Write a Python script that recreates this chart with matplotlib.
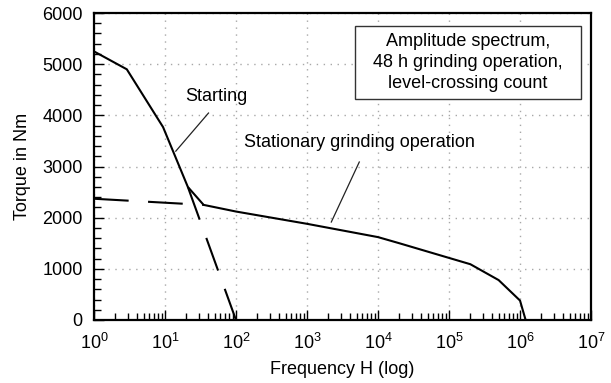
import matplotlib
matplotlib.use("Agg")
import matplotlib.pyplot as plt
from matplotlib.patches import Rectangle
from matplotlib.ticker import LogLocator, MultipleLocator, NullFormatter

plt.rcParams["font.family"] = ["Liberation Sans", "DejaVu Sans"]
plt.rcParams["mathtext.fontset"] = "custom"
plt.rcParams["mathtext.rm"] = "Liberation Sans"
plt.rcParams["mathtext.it"] = "Liberation Sans:italic"
plt.rcParams["lines.scale_dashes"] = False

FS = 13

# Total spectrum (solid): starting branch followed by stationary grinding
total_freq = [1, 2.9, 9.4, 21, 35, 100, 1000, 1e4, 2e4, 2e5, 5e5, 1e6, 1.2e6]
total_torque = [5250, 4900, 3770, 2600, 2250, 2120, 1880, 1620, 1500, 1090, 780, 380, 0]

# Starting spectrum continued below the stationary part (dashed)
start_freq = [21, 100]
start_torque = [2600, 0]

# Stationary spectrum continued towards low counts (dashed)
stat_freq = [1, 35]
stat_torque = [2370, 2250]

fig = plt.figure(figsize=(6.11, 3.83), dpi=100)
ax = fig.add_axes([0.1538, 0.1645, 0.8135, 0.8015])

ax.plot(total_freq, total_torque, color="black", lw=1.5, solid_joinstyle="miter")
ax.plot(start_freq, start_torque, color="black", lw=1.5, dashes=(25, 14))
ax.plot(stat_freq, stat_torque, color="black", lw=1.5, dashes=(25, 14))

ax.set_xscale("log")
ax.set_xlim(1, 1e7)
ax.set_ylim(0, 6000)
ax.xaxis.set_major_locator(LogLocator(base=10, numticks=10))
ax.xaxis.set_minor_locator(LogLocator(base=10, subs=range(2, 10), numticks=100))
ax.xaxis.set_minor_formatter(NullFormatter())
ax.yaxis.set_major_locator(MultipleLocator(1000))
ax.yaxis.set_minor_locator(MultipleLocator(200))

ax.tick_params(which="both", direction="in", top=False, right=False,
               labelsize=FS, color="black")
ax.tick_params(axis="x", which="both", pad=9)
ax.tick_params(axis="y", which="both", pad=8)
ax.tick_params(which="major", length=7, width=1.0)
ax.tick_params(which="minor", length=5, width=1.0)

for s in ax.spines.values():
    s.set_linewidth(1.6)

ax.grid(True, which="major", linestyle=(0, (1, 4)), color="#a8a8a8", lw=1.0)
ax.set_axisbelow(True)

ax.set_xlabel("Frequency H (log)", fontsize=FS, labelpad=6)
ax.set_ylabel("Torque in Nm", fontsize=FS, labelpad=8)

# Curve labels with leader lines
ax.text(53, 4360, "Starting", fontsize=FS, ha="center", va="center")
ax.plot([14.2, 41], [3300, 4045], color="#222222", lw=0.9)

ax.text(5450, 3460, "Stationary grinding operation", fontsize=FS,
        ha="center", va="center")
ax.plot([2200, 5450], [1915, 3088], color="#222222", lw=0.9)

# Description box
ax.add_patch(Rectangle((0.525, 0.72), 0.455, 0.238, transform=ax.transAxes,
                       fc="white", ec="#333333", lw=1.0, zorder=3))
ax.text(0.7525, 0.839,
        "Amplitude spectrum,\n48 h grinding operation,\nlevel-crossing count",
        transform=ax.transAxes, fontsize=FS, ha="center", va="center",
        linespacing=1.32, zorder=4)

fig.savefig("out.png", dpi=100)
